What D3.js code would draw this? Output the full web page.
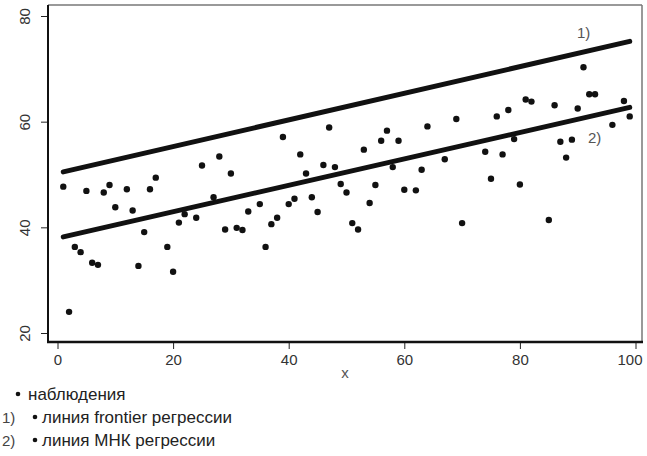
<!DOCTYPE html>
<html>
<head>
<meta charset="utf-8">
<script src="https://cdn.jsdelivr.net/npm/d3@7"></script>
<style>
  body { margin: 0; background: #fff; }
  text { font-family: Arial, "Liberation Sans", sans-serif; }
</style>
</head>
<body>
<div id="container"></div>
<script>
var obsX = [1, 2, 3, 4, 5, 6, 7, 8, 9, 10, 12, 13, 14, 15, 16, 17, 19, 20, 21, 22,
            24, 25, 27, 28, 29, 30, 31, 32, 33, 35, 36, 37, 38, 39, 40, 41, 42, 43, 44, 45,
            46, 47, 48, 49, 50, 51, 52, 53, 54, 55, 56, 57, 58, 59, 60, 62, 63, 64, 67, 69,
            70, 74, 75, 76, 77, 78, 79, 80, 81, 82, 85, 86, 87, 88, 89, 90, 91, 92, 93, 96,
            98, 99];
var obsY = [47.7, 24.0, 36.3, 35.3, 46.9, 33.3, 32.9, 46.6, 48.0, 43.8, 47.2, 43.2, 32.7, 39.1, 47.2, 49.4, 36.3, 31.6, 40.9, 42.5,
            41.8, 51.7, 45.7, 53.4, 39.6, 50.2, 39.9, 39.5, 43.0, 44.4, 36.3, 40.6, 41.8, 57.1, 44.4, 45.4, 53.8, 50.2, 45.7, 42.9,
            51.8, 58.9, 51.4, 48.2, 46.6, 40.8, 39.6, 54.7, 44.6, 48.0, 56.4, 58.3, 51.4, 56.4, 47.1, 47.0, 50.9, 59.1, 52.9, 60.5,
            40.8, 54.3, 49.2, 61.0, 53.8, 62.2, 56.7, 48.1, 64.2, 63.8, 41.4, 63.1, 56.2, 53.2, 56.6, 62.5, 70.3, 65.2, 65.2, 59.4,
            63.9, 61.0];

// fitted lines, end points
var frontierLine = [{x: 1, y: 50.5}, {x: 99, y: 75.2}];
var olsLine = [{x: 1, y: 38.2}, {x: 99, y: 62.7}];

var xTicks = [0, 20, 40, 60, 80, 100],
    yTicks = [20, 40, 60, 80];

var legendItems = ['наблюдения', 'линия frontier регрессии', 'линия МНК регрессии'],
    legendTags = ['', '1)', '2)'];

var WIDTH = 647, HEIGHT = 456;
var frame = {left: 48, top: 5, right: 642, bottom: 342};

var svg = d3.select('#container').append('svg')
    .attr('width', WIDTH)
    .attr('height', HEIGHT);

var x = d3.scaleLinear().domain([0, 100]).range([57.5, 635.5]),
    y = d3.scaleLinear().domain([20, 80]).range([333, 16]);

// frame: top and right thin grey, left and bottom heavier black
svg.append('line')
    .attr('x1', frame.left).attr('x2', frame.right)
    .attr('y1', frame.top).attr('y2', frame.top)
    .attr('stroke', '#777').attr('stroke-width', 1.5);
svg.append('line')
    .attr('x1', frame.right).attr('x2', frame.right)
    .attr('y1', frame.top).attr('y2', frame.bottom)
    .attr('stroke', '#777').attr('stroke-width', 1.5);

var xAxis = svg.append('g')
    .attr('transform', 'translate(0,' + frame.bottom + ')')
    .call(d3.axisBottom(x).tickValues(xTicks).tickSize(7).tickSizeOuter(0).tickPadding(5));
xAxis.select('.domain').remove();
xAxis.selectAll('.tick line').attr('stroke', '#222');
xAxis.selectAll('.tick text')
    .attr('font-size', 15)
    .attr('fill', '#333')
    .attr('dx', function(d) { return d === 100 ? -6 : 0; })
    .style('font-family', 'Arial, "Liberation Sans", sans-serif');

var yAxis = svg.append('g')
    .attr('transform', 'translate(' + frame.left + ',0)')
    .call(d3.axisLeft(y).tickValues(yTicks).tickSize(7).tickSizeOuter(0));
yAxis.select('.domain').remove();
yAxis.selectAll('.tick line').attr('stroke', '#222');
yAxis.selectAll('.tick text')
    .attr('x', 0)
    .attr('dy', '0.35em')
    .attr('text-anchor', 'middle')
    .attr('transform', 'translate(-23,0) rotate(-90)')
    .attr('font-size', 15)
    .attr('fill', '#333')
    .style('font-family', 'Arial, "Liberation Sans", sans-serif');

svg.append('line')
    .attr('x1', frame.left).attr('x2', frame.left)
    .attr('y1', frame.top).attr('y2', frame.bottom + 1)
    .attr('stroke', '#111').attr('stroke-width', 2);
svg.append('line')
    .attr('x1', frame.left - 1).attr('x2', frame.right + 1)
    .attr('y1', frame.bottom).attr('y2', frame.bottom)
    .attr('stroke', '#111').attr('stroke-width', 2.5);

svg.append('text')
    .attr('x', 345).attr('y', 378)
    .attr('text-anchor', 'middle')
    .attr('font-size', 15)
    .attr('fill', '#555')
    .text('x');

// regression lines
var line = d3.line()
    .x(function(d) { return x(d.x); })
    .y(function(d) { return y(d.y); });

[frontierLine, olsLine].forEach(function(pts) {
  svg.append('path')
      .datum(pts)
      .attr('d', line)
      .attr('fill', 'none')
      .attr('stroke', '#111')
      .attr('stroke-width', 5)
      .attr('stroke-linecap', 'round');
});

// observations
var obs = obsX.map(function(d, i) { return {x: d, y: obsY[i]}; });
svg.append('g').selectAll('circle')
    .data(obs)
    .enter()
    .append('circle')
      .attr('cx', function(d) { return x(d.x); })
      .attr('cy', function(d) { return y(d.y); })
      .attr('r', 3.2)
      .attr('fill', '#111');

// line tags
svg.append('text')
    .attr('x', 577).attr('y', 38)
    .attr('font-size', 15).attr('fill', '#555')
    .text('1)');
svg.append('text')
    .attr('x', 588).attr('y', 143)
    .attr('font-size', 15).attr('fill', '#555')
    .text('2)');

// legend
var legend = svg.append('g').selectAll('g')
    .data(legendItems)
    .enter()
    .append('g')
      .attr('transform', function(d, i) { return 'translate(0,' + (400 + i * 23) + ')'; });

legend.append('circle')
    .attr('cx', function(d, i) { return i === 0 ? 18 : 35; })
    .attr('cy', -6)
    .attr('r', 2.3)
    .attr('fill', '#111');
legend.append('text')
    .attr('x', 2)
    .attr('font-size', 15)
    .attr('fill', '#444')
    .text(function(d, i) { return legendTags[i]; });
legend.append('text')
    .attr('x', function(d, i) { return i === 0 ? 28 : 42; })
    .attr('font-size', 17)
    .attr('fill', '#222')
    .text(function(d) { return d; });
</script>
</body>
</html>
